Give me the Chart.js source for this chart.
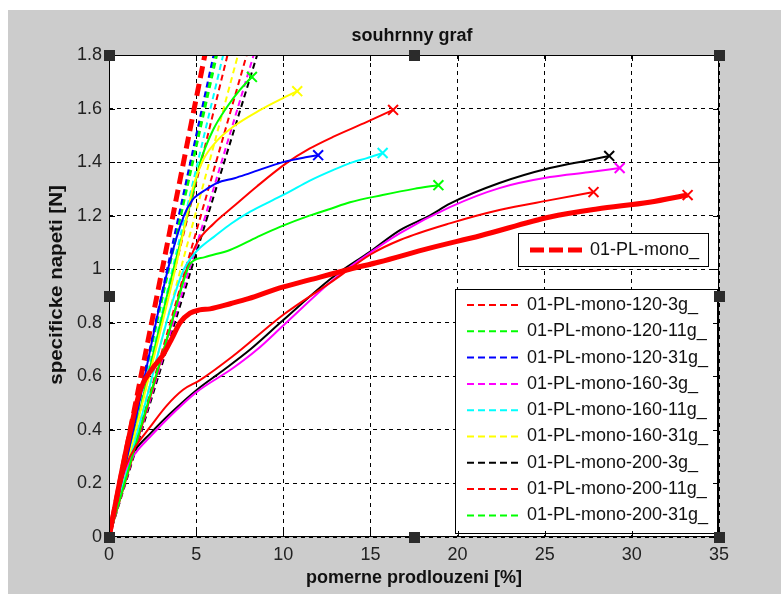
<!DOCTYPE html>
<html>
<head>
<meta charset="utf-8">
<title>souhrnny graf</title>
<script src="https://cdn.jsdelivr.net/npm/chart.js@4.4.1/dist/chart.umd.min.js"></script>
<style>
  html, body { margin: 0; padding: 0; background: #fff; }
  canvas { display: block; }
</style>
</head>
<body>
<canvas id="myChart" width="781" height="594"></canvas>
<script>
// souhrnny graf - vsechny vzorky v jednom grafu

// nazvy vzorku (legenda)
const sampleNames = [
  '01-PL-mono-120-3g_', '01-PL-mono-120-11g_', '01-PL-mono-120-31g_',
  '01-PL-mono-160-3g_', '01-PL-mono-160-11g_', '01-PL-mono-160-31g_',
  '01-PL-mono-200-3g_', '01-PL-mono-200-11g_', '01-PL-mono-200-31g_'
];
const meanName = '01-PL-mono_';

// namerene krivky: pomerne prodlouzeni [%] / specificke napeti [N]
const strain_120_3g = [0, 0.5, 1.0, 1.5, 2.35, 3.3, 4.25, 5.2, 7.1, 10.0, 12.7, 14.0, 15.0, 16.7, 19.6, 22.4, 25.3, 27.8];
const stress_120_3g = [0, 0.16, 0.27, 0.335, 0.41, 0.49, 0.55, 0.585, 0.675, 0.83, 0.95, 1.01, 1.055, 1.109, 1.172, 1.221, 1.258, 1.288];

const strain_120_11g = [0, 2.0, 3.5, 4.4, 4.65, 5.5, 6.94, 8.5, 9.81, 11.5, 12.68, 13.83, 15.7, 17.5, 18.9];
const stress_120_11g = [0, 0.45, 0.78, 0.98, 1.02, 1.045, 1.072, 1.12, 1.158, 1.2, 1.225, 1.25, 1.277, 1.3, 1.314];

const strain_120_31g = [0, 1.5, 3.38, 4.3, 4.8, 5.05, 5.5, 6.2, 7.2, 8.09, 9.98, 11.36, 12.0];
const stress_120_31g = [0, 0.43, 1.0, 1.2, 1.26, 1.275, 1.295, 1.322, 1.34, 1.359, 1.40, 1.419, 1.426];

const strain_160_3g = [0, 0.5, 1.0, 1.6, 2.3, 3.33, 5.0, 7.1, 8.5, 10.0, 12.85, 14.5, 16.7, 19.56, 22.4, 25.3, 27.5, 29.3];
const stress_160_3g = [0, 0.16, 0.26, 0.32, 0.37, 0.44, 0.54, 0.63, 0.70, 0.79, 0.96, 1.04, 1.135, 1.232, 1.303, 1.344, 1.362, 1.378];

const strain_160_11g = [0, 2.0, 3.6, 4.3, 4.8, 5.22, 6.0, 7.0, 8.1, 9.4, 10.2, 11.5, 12.85, 14.0, 14.8, 15.7];
const stress_160_11g = [0, 0.48, 0.87, 1.0, 1.05, 1.08, 1.12, 1.17, 1.215, 1.258, 1.284, 1.33, 1.37, 1.40, 1.415, 1.434];

const strain_160_31g = [0, 1.8, 3.8, 4.4, 4.8, 5.4, 6.2, 7.1, 8.66, 9.98, 10.8];
const stress_160_31g = [0, 0.47, 1.0, 1.18, 1.3, 1.408, 1.48, 1.531, 1.594, 1.639, 1.665];

const strain_200_3g = [0, 0.5, 1.0, 1.5, 2.35, 3.5, 5.05, 6.5, 8.1, 10.0, 12.85, 14.97, 16.7, 18.4, 19.56, 22.4, 25.3, 27.6, 28.7];
const stress_200_3g = [0, 0.16, 0.27, 0.325, 0.385, 0.46, 0.55, 0.62, 0.70, 0.81, 0.971, 1.065, 1.146, 1.20, 1.245, 1.322, 1.378, 1.408, 1.423];

const strain_200_11g = [0, 2.0, 3.6, 4.4, 5.05, 6.0, 7.1, 8.5, 10.2, 11.5, 12.85, 14.8, 16.3];
const stress_200_11g = [0, 0.44, 0.8, 0.99, 1.098, 1.17, 1.232, 1.31, 1.397, 1.45, 1.494, 1.55, 1.595];

const strain_200_31g = [0, 1.8, 3.7, 4.3, 4.8, 5.22, 5.97, 6.77, 7.5, 8.2];
const stress_200_31g = [0, 0.48, 1.0, 1.15, 1.28, 1.397, 1.52, 1.606, 1.669, 1.718];

// prumerna krivka 01-PL-mono_
const strain_mean = [0, 1.0, 1.8, 2.5, 3.1, 3.6, 4.07, 4.65, 5.2, 5.8, 7.0, 8.0, 9.8, 11.5, 13.8, 15.5, 18.4, 21.3, 25.3, 28.0, 31.0, 33.2];
const stress_mean = [0, 0.33, 0.55, 0.63, 0.68, 0.74, 0.8, 0.836, 0.848, 0.852, 0.872, 0.89, 0.93, 0.96, 1.0, 1.027, 1.079, 1.125, 1.195, 1.225, 1.25, 1.277];

// primkove nahrady z pocatku: prodlouzeni [%] pri napeti 1.8 N
const fitStrainAtTop = [6.8, 6.2, 6.0, 8.3, 6.55, 7.4, 8.5, 7.9, 6.1];
const fitStrainAtTopMean = 5.5;
const fitTopStress = 1.8;

const xTicks = { min: 0, max: 35, step: 5 };
const yTicks = { min: 0, max: 1.8, step: 0.2 };

// barvy (styl)
const sampleColors = ['#ff0000', '#00ff00', '#0000ff', '#ff00ff', '#00ffff', '#ffff00', '#000000', '#ff0000', '#00ff00'];

const measured = [
  [strain_120_3g, stress_120_3g], [strain_120_11g, stress_120_11g], [strain_120_31g, stress_120_31g],
  [strain_160_3g, stress_160_3g], [strain_160_11g, stress_160_11g], [strain_160_31g, stress_160_31g],
  [strain_200_3g, stress_200_3g], [strain_200_11g, stress_200_11g], [strain_200_31g, stress_200_31g]
];

function toPoints(xs, ys) {
  return xs.map((x, i) => ({ x: x, y: ys[i] }));
}

function lastPointOnly(r) {
  return function (ctx) {
    return ctx.dataIndex === ctx.dataset.data.length - 1 ? r : 0;
  };
}

const datasets = [];

// prumer - tlusta cara + primka
datasets.push({
  label: meanName,
  data: toPoints(strain_mean, stress_mean),
  borderColor: '#ff0000',
  borderWidth: 5,
  cubicInterpolationMode: 'monotone',
  pointStyle: 'crossRot',
  pointRadius: lastPointOnly(7),
  pointBorderWidth: 2,
  pointBorderColor: '#ff0000',
  pointBackgroundColor: '#ff0000'
});
datasets.push({
  label: meanName + ' fit',
  data: [{ x: 0, y: 0 }, { x: fitStrainAtTopMean, y: fitTopStress }],
  borderColor: '#ff0000',
  borderWidth: 5,
  borderDash: [12, 6],
  pointRadius: 0
});

for (let i = 0; i < sampleNames.length; i++) {
  datasets.push({
    label: sampleNames[i],
    data: toPoints(measured[i][0], measured[i][1]),
    borderColor: sampleColors[i],
    borderWidth: 2,
    cubicInterpolationMode: 'monotone',
    pointStyle: 'crossRot',
    pointRadius: lastPointOnly(7),
    pointBorderWidth: 2,
    pointBorderColor: sampleColors[i],
    pointBackgroundColor: sampleColors[i]
  });
}
for (let i = 0; i < sampleNames.length; i++) {
  datasets.push({
    label: sampleNames[i] + ' fit',
    data: [{ x: 0, y: 0 }, { x: fitStrainAtTop[i], y: fitTopStress }],
    borderColor: sampleColors[i],
    borderWidth: 2,
    borderDash: [6, 4],
    pointRadius: 0
  });
}

const FONT = '"Liberation Sans", Arial, Helvetica, sans-serif';
Chart.defaults.font.family = FONT;

// pozadi, legendy, ramecek, znacky
const matlabLook = {
  id: 'matlabLook',
  beforeDraw(chart) {
    const c = chart.ctx, a = chart.chartArea;
    c.save();
    c.fillStyle = '#ffffff';
    c.fillRect(0, 0, chart.width, chart.height);
    c.fillStyle = '#cccccc';
    c.fillRect(8, 10, chart.width - 8, chart.height - 10);
    c.fillStyle = '#ffffff';
    c.fillRect(a.left, a.top, a.right - a.left, a.bottom - a.top);
    c.restore();
  },
  afterDraw(chart) {
    const c = chart.ctx, a = chart.chartArea;
    const xs = chart.scales.x, ys = chart.scales.y;
    c.save();

    // legenda 1
    c.fillStyle = '#fff';
    c.fillRect(518.5, 233.5, 190, 33);
    c.strokeStyle = '#000';
    c.lineWidth = 1;
    c.strokeRect(518.5, 233.5, 190, 33);
    c.beginPath();
    c.setLineDash([14, 5]);
    c.lineWidth = 5;
    c.strokeStyle = '#ff0000';
    c.moveTo(530, 250);
    c.lineTo(584, 250);
    c.stroke();
    c.setLineDash([]);
    c.fillStyle = '#111';
    c.font = '18px ' + FONT;
    c.textBaseline = 'middle';
    c.textAlign = 'left';
    c.fillText(meanName, 590, 250);

    // legenda 2
    c.fillStyle = '#fff';
    c.fillRect(455.5, 289.5, 262, 244);
    c.strokeStyle = '#000';
    c.lineWidth = 1;
    c.strokeRect(455.5, 289.5, 262, 244);
    for (let i = 0; i < sampleNames.length; i++) {
      const ly = 305 + i * 26.3;
      c.beginPath();
      c.setLineDash([7, 4]);
      c.lineWidth = 2;
      c.strokeStyle = sampleColors[i];
      c.moveTo(467, ly);
      c.lineTo(521, ly);
      c.stroke();
      c.setLineDash([]);
      c.fillStyle = '#111';
      c.fillText(sampleNames[i], 527, ly);
    }

    // ramecek os
    c.strokeStyle = '#000';
    c.lineWidth = 1;
    c.strokeRect(a.left + 0.5, a.top + 0.5, a.right - a.left - 1, a.bottom - a.top - 1);

    // znacky dovnitr
    c.beginPath();
    xs.ticks.forEach(t => {
      const px = Math.round(xs.getPixelForValue(t.value)) + 0.5;
      c.moveTo(px, a.bottom); c.lineTo(px, a.bottom - 6);
      c.moveTo(px, a.top); c.lineTo(px, a.top + 6);
    });
    ys.ticks.forEach(t => {
      const py = Math.round(ys.getPixelForValue(t.value)) + 0.5;
      c.moveTo(a.left, py); c.lineTo(a.left + 6, py);
      c.moveTo(a.right, py); c.lineTo(a.right - 6, py);
    });
    c.stroke();

    // uchyty vyberu (plot edit)
    const mx = (a.left + a.right) / 2, my = (a.top + a.bottom) / 2;
    const handles = [[a.left, a.top], [mx, a.top], [a.right, a.top], [a.left, my], [a.right, my],
      [a.left, a.bottom], [mx, a.bottom], [a.right, a.bottom]];
    c.fillStyle = '#2b2b2b';
    handles.forEach(h => c.fillRect(Math.round(h[0]) - 5, Math.round(h[1]) - 5, 11, 11));

    // nadpis
    c.fillStyle = '#111';
    c.font = 'bold 18px ' + FONT;
    c.textAlign = 'center';
    c.textBaseline = 'middle';
    c.fillText('souhrnny graf', 412, 36);

    // popis osy y
    c.translate(57, 285);
    c.rotate(-Math.PI / 2);
    c.scale(1.14, 1);
    c.fillText('specificke napeti [N]', 0, 0);
    c.restore();
  }
};

const config = {
  type: 'line',
  data: { datasets: datasets },
  options: {
    responsive: false,
    animation: false,
    layout: { padding: { left: 0, top: 55, right: 62, bottom: 0 } },
    plugins: {
      legend: { display: false },
      tooltip: { enabled: false }
    },
    scales: {
      x: {
        type: 'linear',
        min: xTicks.min,
        max: xTicks.max,
        ticks: { stepSize: xTicks.step, padding: 7, color: '#222', font: { size: 18 } },
        grid: { color: '#000', lineWidth: 1, drawTicks: false },
        border: { display: false, dash: [4, 4] },
        title: {
          display: true,
          text: 'pomerne prodlouzeni [%]',
          color: '#111',
          font: { size: 18, weight: 'bold' },
          padding: { top: 0, bottom: 5 }
        },
        afterFit: function (scale) { scale.height = 57; }
      },
      y: {
        type: 'linear',
        min: yTicks.min,
        max: yTicks.max,
        ticks: {
          stepSize: yTicks.step, padding: 7, color: '#222', font: { size: 18 },
          callback: function (value) { return String(Number(value.toFixed(1))); }
        },
        grid: { color: '#000', lineWidth: 1, drawTicks: false },
        border: { display: false, dash: [4, 4] },
        afterFit: function (scale) { scale.width = 109; }
      }
    }
  },
  plugins: [matlabLook]
};

const myChart = new Chart(document.getElementById('myChart'), config);
</script>
</body>
</html>
